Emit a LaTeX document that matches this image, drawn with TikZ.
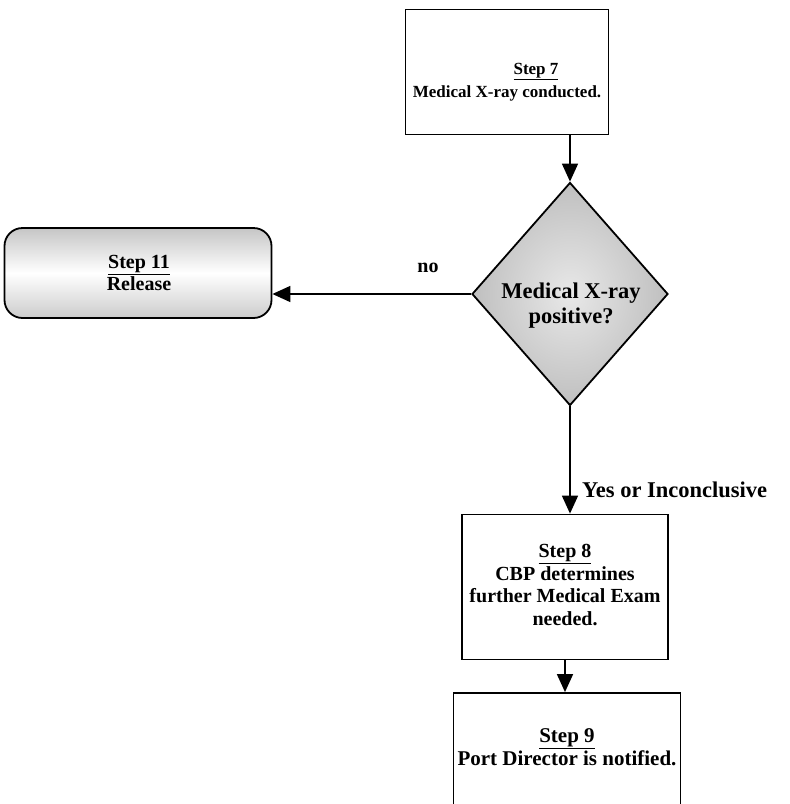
\documentclass[tikz,border=0pt]{standalone}
\usepackage{fontspec}
\setmainfont{Liberation Serif}
\usetikzlibrary{shapes.geometric,arrows.meta}
\begin{document}
\begin{tikzpicture}[x=1pt,y=-1pt,
  every node/.style={align=center, inner sep=0pt},
  stepbox/.style={draw, line width=1.8pt, rectangle},
  roundbox/.style={draw, line width=1.8pt, rectangle, rounded corners=18pt, top color=gray!45, bottom color=gray!40, middle color=white},
  decision/.style={draw, line width=1.8pt, diamond, shading=radial, inner color=gray!18, outer color=gray!50},
  conn/.style={line width=1.6pt, -{Triangle[length=18pt,width=16pt]}},
  txt/.style={font=\fontsize{20}{22.5}\selectfont\bfseries},
  lbl/.style={font=\fontsize{20}{22}\selectfont\bfseries}]
\useasboundingbox (0,0) rectangle (790,804);
\clip (0,0) rectangle (790,804);
\node[stepbox, minimum width=203pt, minimum height=125pt] (s7) at (507,72) {};
\node[font=\fontsize{17}{23}\selectfont\bfseries] (t7) at (507,82) {\hspace*{58pt}\underline{Step 7}\\Medical X-ray conducted.};
\node[decision, minimum width=196pt, minimum height=223pt] (d) at (570,294) {};
\node[font=\fontsize{22.5}{25}\selectfont\bfseries] (td) at (571,306) {Medical X-ray\\positive?};
\node[roundbox, minimum width=267pt, minimum height=90pt] (s11) at (138,273) {};
\node[txt] (t11) at (139,273) {\underline{Step 11}\\Release};
\node[stepbox, minimum width=206pt, minimum height=145pt] (s8) at (565,587) {};
\node[txt] (t8) at (565,585) {\underline{Step 8}\\CBP determines\\further Medical Exam\\needed.};
\node[stepbox, minimum width=227pt, minimum height=120pt] (s9) at (567,753) {};
\node[font=\fontsize{21}{22.5}\selectfont\bfseries] (t9) at (567,747) {\underline{Step 9}\\Port Director is notified.};
\draw[conn] (s7.south -| d.north) -- (d.north);
\draw[conn] (d.west) -- (s11.east |- d.west);
\draw[conn] (d.south) -- (s8.north -| d.south);
\draw[conn] (s8.south) -- (s9.north -| s8.south);
\node[lbl] (no) at (428,268) {no};
\node[font=\fontsize{22.5}{25}\selectfont\bfseries, anchor=west] (yes) at (582,490) {Yes or Inconclusive};
\end{tikzpicture}
\end{document}
